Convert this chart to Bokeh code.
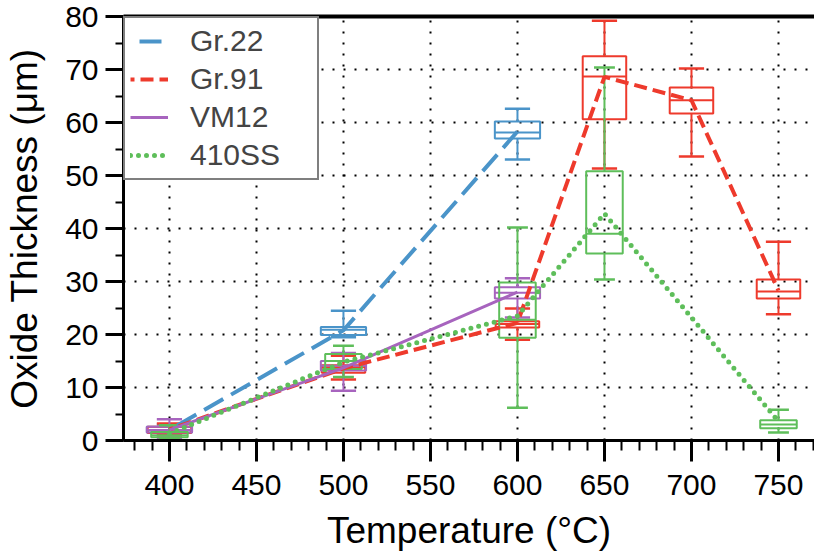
from bokeh.plotting import figure
from bokeh.models import SingleIntervalTicker, FixedTicker, LinearAxis
from bokeh.embed import file_html
from bokeh.resources import INLINE

# ---------------- data ----------------
temps_22 = [400, 500, 600]
g22_wlo = [1.0, 19.5, 53.0]
g22_q1 = [1.5, 19.9, 57.0]
g22_med = [2.0, 20.9, 58.1]
g22_q3 = [2.6, 21.4, 60.2]
g22_whi = [3.0, 24.5, 62.6]
g22_mean = [2.0, 20.8, 58.3]

temps_91 = [400, 500, 600, 650, 700, 750]
g91_wlo = [1.0, 11.5, 19.0, 51.3, 53.6, 23.8]
g91_q1 = [1.4, 12.8, 21.3, 60.6, 61.7, 26.8]
g91_med = [2.0, 13.8, 22.0, 68.7, 64.2, 28.1]
g91_q3 = [2.6, 14.2, 22.5, 72.5, 66.6, 30.4]
g91_whi = [3.2, 16.0, 24.9, 79.2, 70.2, 37.5]
g91_mean = [2.1, 13.6, 22.2, 68.6, 64.2, 28.3]

temps_vm = [400, 500, 600]
vm_wlo = [0.5, 9.4, 23.2]
vm_q1 = [1.5, 13.2, 26.8]
vm_med = [2.0, 14.1, 27.9]
vm_q3 = [2.6, 15.0, 28.9]
vm_whi = [4.0, 16.5, 30.6]
vm_mean = [2.0, 13.7, 28.0]

temps_410 = [400, 500, 600, 650, 750]
s410_wlo = [0.4, 12.0, 6.2, 30.4, 1.5]
s410_q1 = [0.6, 13.5, 19.4, 35.3, 2.3]
s410_med = [1.0, 15.0, 22.8, 39.0, 3.0]
s410_q3 = [1.6, 16.3, 29.8, 50.8, 3.8]
s410_whi = [2.9, 17.9, 40.2, 70.4, 5.8]
s410_mean = [1.3, 14.8, 23.5, 42.8, 3.6]

series_names = ["Gr.22", "Gr.91", "VM12", "410SS"]

# ---------------- styles ----------------
FONT = "Liberation Sans"
series = [
    dict(name=series_names[0], x=temps_22, lo=g22_wlo, q1=g22_q1, med=g22_med, q3=g22_q3, hi=g22_whi, mean=g22_mean,
         color="#4a94c9", dash="22 9", off=22, lw=4, cap="butt", box_w=26, cap_w=14.5),
    dict(name=series_names[1], x=temps_91, lo=g91_wlo, q1=g91_q1, med=g91_med, q3=g91_q3, hi=g91_whi, mean=g91_mean,
         color="#ee3a2c", dash="13 6", off=9, lw=4, cap="butt", box_w=25, cap_w=14.5),
    dict(name=series_names[2], x=temps_vm, lo=vm_wlo, q1=vm_q1, med=vm_med, q3=vm_q3, hi=vm_whi, mean=vm_mean,
         color="#a764be", dash="solid", off=0, lw=3, cap="butt", box_w=26, cap_w=14.5),
    dict(name=series_names[3], x=temps_410, lo=s410_wlo, q1=s410_q1, med=s410_med, q3=s410_q3, hi=s410_whi, mean=s410_mean,
         color="#5ebe5a", dash="0 8", off=0, lw=5, cap="round", box_w=21, cap_w=12),
]

p = figure(width=814, height=556, x_range=(373.6, 770.7), y_range=(0, 80),
           output_backend="svg", toolbar_location=None,
           min_border_left=123, min_border_right=0, min_border_top=16, min_border_bottom=116)

p.outline_line_color = None
p.background_fill_color = "white"

# axes
xt = SingleIntervalTicker(interval=50, num_minor_ticks=5)
yt = SingleIntervalTicker(interval=10, num_minor_ticks=2)
p.xaxis.ticker = xt
p.yaxis.ticker = yt
p.xgrid.ticker = xt
p.ygrid.ticker = yt

for ax in (p.xaxis[0], p.yaxis[0]):
    ax.axis_line_width = 3
    ax.axis_line_color = "black"
    ax.major_tick_line_width = 3
    ax.minor_tick_line_width = 2
    ax.major_tick_line_color = "black"
    ax.minor_tick_line_color = "black"
    ax.major_tick_in = 0
    ax.minor_tick_in = 0
    ax.major_label_text_font = FONT
    ax.major_label_text_font_size = "30px"
    ax.major_label_text_color = "black"
    ax.axis_label_text_font = FONT
    ax.axis_label_text_font_style = "normal"
    ax.axis_label_text_color = "black"
    ax.axis_label_text_font_size = "37px"

p.xaxis.major_tick_out = 21
p.xaxis.minor_tick_out = 10
p.xaxis.major_label_standoff = 13
p.xaxis.axis_label = "Temperature (°C)"
p.xaxis.axis_label_standoff = 12

p.yaxis.major_tick_out = 18
p.yaxis.minor_tick_out = 8
p.yaxis.major_label_standoff = 7
p.yaxis.axis_label = "Oxide Thickness (μm)"
p.yaxis.axis_label_standoff = 17

top = LinearAxis(ticker=FixedTicker(ticks=[]), axis_line_width=4, axis_line_color="black",
                 major_tick_line_color=None, minor_tick_line_color=None,
                 major_tick_out=0, minor_tick_out=0, major_label_standoff=0)
p.add_layout(top, "above")

for g in (p.xgrid[0], p.ygrid[0]):
    g.grid_line_color = "black"
    g.grid_line_width = 2
    g.grid_line_dash = "2 9"

# boxes, whiskers, mean lines
for s in series:
    c = s["color"]
    hw = s["box_w"] / 2.0
    cw = s["cap_w"] / 2.0
    xs = s["x"]
    p.vbar(x=xs, width=s["box_w"], bottom=s["q1"], top=s["q3"],
           fill_alpha=0, line_color=c, line_width=2)
    p.segment(x0=[x - hw for x in xs], x1=[x + hw for x in xs], y0=s["med"], y1=s["med"],
              line_color=c, line_width=2)
    p.segment(x0=xs, x1=xs, y0=s["q3"], y1=s["hi"], line_color=c, line_width=2)
    p.segment(x0=xs, x1=xs, y0=s["q1"], y1=s["lo"], line_color=c, line_width=2)
    p.segment(x0=[x - cw for x in xs], x1=[x + cw for x in xs], y0=s["hi"], y1=s["hi"],
              line_color=c, line_width=2.5)
    p.segment(x0=[x - cw for x in xs], x1=[x + cw for x in xs], y0=s["lo"], y1=s["lo"],
              line_color=c, line_width=2.5)

for s in series:
    p.line(x=s["x"], y=s["mean"], line_color=s["color"], line_width=s["lw"],
           line_dash=s["dash"], line_dash_offset=s["off"], line_cap=s["cap"],
           legend_label=s["name"])

lg = p.legend[0]
lg.location = "top_left"
lg.margin = 0
lg.padding = 5
lg.spacing = 2
lg.border_line_color = "black"
lg.border_line_width = 2
lg.background_fill_alpha = 1
lg.label_text_font = FONT
lg.label_text_font_size = "30px"
lg.glyph_width = 38
lg.glyph_height = 36
lg.label_height = 36
lg.label_standoff = 22
lg.label_width = 122

open("out.html", "w").write(file_html(p, INLINE))
